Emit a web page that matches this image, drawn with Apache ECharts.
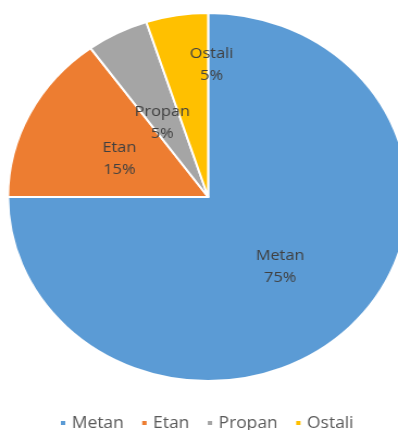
<!DOCTYPE html>
<html>
<head>
<meta charset="utf-8">
<script src="https://cdn.jsdelivr.net/npm/echarts@6/dist/echarts.min.js"></script>
<style>
html,body{margin:0;padding:0;background:#fff;overflow:hidden;}
#wrap{width:398px;height:430px;overflow:hidden;position:relative;}
#chart{width:366px;height:430px;transform:scaleX(1.0874);transform-origin:0 0;}
</style>
</head>
<body>
<div id="wrap"><div id="chart"></div></div>
<script>
var categories = ['Metan', 'Etan', 'Propan', 'Ostali'];
var values = [75, 15, 5, 5];
var colors = ['#5B9BD5', '#ED7D31', '#A5A5A5', '#FFC000'];
var labelOffsets = { 'Metan': [-1, 3], 'Etan': [3, 5], 'Propan': [1, 10], 'Ostali': [18, -38] };

var data = categories.map(function (c, i) {
  return {
    name: c,
    value: values[i],
    itemStyle: { color: colors[i] },
    label: { offset: labelOffsets[c] }
  };
});

var chart = echarts.init(document.getElementById('chart'), null, { renderer: 'canvas' });
chart.setOption({
  animation: false,
  legend: {
    data: categories,
    top: 410,
    left: 49,
    icon: 'rect',
    itemWidth: 6,
    itemHeight: 6,
    itemGap: 15,
    textStyle: { color: '#595959', fontSize: 16, fontFamily: 'Open Sans' }
  },
  series: [{
    type: 'pie',
    center: [191.4, 197],
    radius: [0, 184],
    startAngle: 90,
    clockwise: true,
    avoidLabelOverlap: false,
    minShowLabelAngle: 0,
    itemStyle: { borderColor: '#ffffff', borderWidth: 2 },
    label: {
      show: true,
      position: 'inside',
      formatter: '{b}\n{d}%',
      color: '#404040',
      fontSize: 15,
      lineHeight: 22,
      fontFamily: 'Open Sans'
    },
    labelLayout: { hideOverlap: false },
    labelLine: { show: false },
    emphasis: { disabled: true },
    data: data
  }]
});
</script>
</body>
</html>
